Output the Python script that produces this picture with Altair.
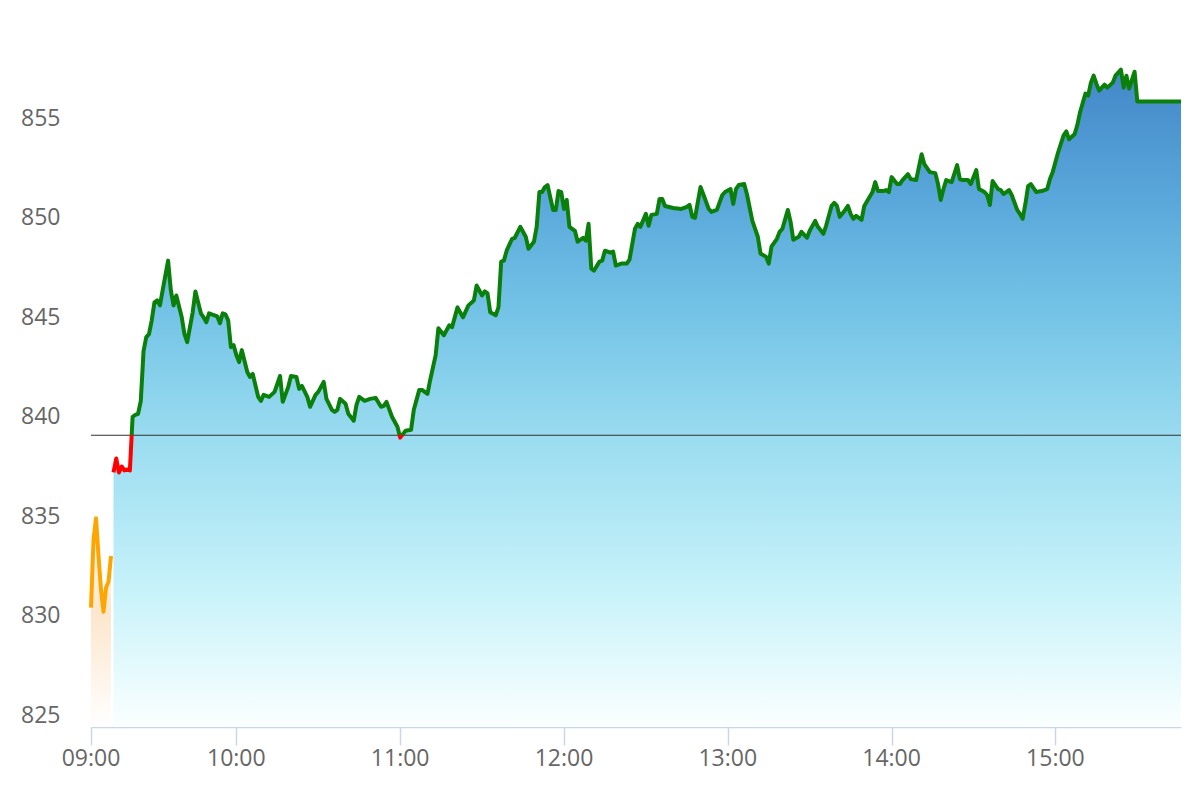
import altair as alt
import pandas as pd

# ---------------- data ----------------
prev_close = 839.07

pre_times = ["09:00", "09:01", "09:02", "09:03", "09:04", "09:05", "09:06", "09:07", "09:08"]
pre_vals = [830.4, 833.8, 834.9, 833.0, 831.3, 830.2, 831.4, 831.7, 833.0]

main_times = [
    "09:15", "09:16", "09:17", "09:18", "09:19", "09:20", "09:21", "09:22", "09:23", "09:24",
    "09:25", "09:26", "09:27", "09:28", "09:29", "09:30", "09:31", "09:32", "09:33", "09:35",
    "09:36", "09:37", "09:38", "09:40", "09:41", "09:42", "09:44", "09:45", "09:47", "09:48",
    "09:49", "09:50", "09:52", "09:53", "09:54", "09:55", "09:56", "09:57", "09:58", "09:59",
    "10:00", "10:01", "10:02", "10:04", "10:05", "10:06", "10:08", "10:09", "10:10", "10:12",
    "10:14", "10:16", "10:17", "10:19", "10:20", "10:22", "10:23", "10:24", "10:26", "10:27",
    "10:29", "10:30", "10:32", "10:33", "10:35", "10:36", "10:37", "10:38", "10:40", "10:41",
    "10:43", "10:44", "10:45", "10:47", "10:49", "10:51", "10:53", "10:54", "10:55", "10:57",
    "10:59", "11:00", "11:02", "11:04", "11:05", "11:07", "11:08", "11:10", "11:11", "11:13",
    "11:14", "11:16", "11:18", "11:19", "11:21", "11:22", "11:23", "11:25", "11:27", "11:28",
    "11:30", "11:31", "11:32", "11:33", "11:35", "11:36", "11:37", "11:38", "11:39", "11:41",
    "11:42", "11:44", "11:46", "11:47", "11:49", "11:50", "11:51", "11:52", "11:53", "11:54",
    "11:56", "11:57", "11:58", "11:59", "12:00", "12:01", "12:02", "12:04", "12:05", "12:07",
    "12:08", "12:09", "12:10", "12:11", "12:13", "12:14", "12:15", "12:17", "12:18", "12:19",
    "12:21", "12:23", "12:24", "12:26", "12:27", "12:28", "12:30", "12:31", "12:32", "12:34",
    "12:35", "12:36", "12:37", "12:40", "12:43", "12:45", "12:46", "12:47", "12:48", "12:50",
    "12:51", "12:53", "12:54", "12:56", "12:58", "12:59", "13:01", "13:02", "13:03", "13:04",
    "13:06", "13:07", "13:09", "13:11", "13:12", "13:14", "13:15", "13:16", "13:18", "13:19",
    "13:20", "13:22", "13:23", "13:24", "13:26", "13:27", "13:29", "13:30", "13:32", "13:33",
    "13:35", "13:36", "13:38", "13:39", "13:40", "13:41", "13:43", "13:44", "13:45", "13:46",
    "13:47", "13:49", "13:50", "13:53", "13:54", "13:55", "13:57", "13:58", "13:59", "14:00",
    "14:02", "14:03", "14:04", "14:06", "14:07", "14:09", "14:11", "14:12", "14:14", "14:16",
    "14:17", "14:18", "14:19", "14:20", "14:22", "14:24", "14:25", "14:26", "14:28", "14:29",
    "14:31", "14:32", "14:34", "14:35", "14:36", "14:37", "14:39", "14:40", "14:41", "14:43",
    "14:44", "14:46", "14:47", "14:48", "14:49", "14:50", "14:51", "14:53", "14:55", "14:57",
    "14:58", "14:59", "15:01", "15:03", "15:04", "15:05", "15:07", "15:08", "15:09", "15:11",
    "15:12", "15:13", "15:14", "15:15", "15:16", "15:18", "15:19", "15:21", "15:22", "15:24",
    "15:25", "15:26", "15:27", "15:29", "15:30", "15:46",
]
main_vals = [
    837.2, 837.9, 837.2, 837.5, 837.3, 837.35, 837.3, 840.0, 840.1, 840.15,
    840.8, 843.3, 844.0, 844.15, 844.85, 845.75, 845.85, 845.6, 846.35, 847.85,
    846.35, 845.6, 846.1, 845.0, 844.15, 843.75, 845.25, 846.3, 845.2, 845.0,
    844.75, 845.2, 845.1, 845.05, 844.7, 845.2, 845.15, 844.85, 843.5, 843.6,
    843.1, 842.75, 843.35, 842.25, 842.0, 842.15, 841.0, 840.8, 841.1, 841.0,
    841.25, 842.05, 840.75, 841.5, 842.05, 842.0, 841.4, 841.55, 841.0, 840.5,
    841.1, 841.25, 841.75, 840.9, 840.35, 840.25, 840.35, 840.9, 840.65, 840.15,
    839.8, 840.6, 841.0, 840.8, 840.9, 840.95, 840.5, 840.55, 840.75, 840.0,
    839.5, 838.95, 839.3, 839.35, 840.35, 841.35, 841.35, 841.15, 841.85, 843.1,
    844.45, 844.1, 844.6, 844.5, 845.5, 845.25, 845.0, 845.6, 845.85, 846.6,
    846.1, 846.3, 846.2, 845.25, 845.1, 845.5, 847.8, 847.85, 848.35, 848.95,
    849.0, 849.55, 849.05, 848.45, 848.8, 849.55, 851.3, 851.3, 851.55, 851.65,
    850.4, 850.4, 851.35, 851.3, 850.45, 850.9, 849.55, 849.35, 848.8, 849.0,
    848.85, 849.7, 847.45, 847.35, 847.8, 847.85, 848.35, 848.25, 848.3, 847.6,
    847.7, 847.7, 847.9, 849.45, 849.7, 849.55, 850.2, 849.6, 850.15, 850.2,
    850.95, 850.95, 850.6, 850.5, 850.45, 850.55, 850.65, 850.05, 850.0, 851.55,
    851.2, 850.45, 850.3, 850.4, 851.15, 851.3, 851.45, 850.7, 851.45, 851.65,
    851.7, 851.2, 849.85, 849.05, 848.2, 848.05, 847.7, 848.55, 848.95, 849.3,
    849.45, 850.4, 849.8, 848.9, 849.05, 849.3, 849.0, 849.35, 849.85, 849.55,
    849.2, 849.6, 850.6, 850.75, 850.6, 850.05, 850.4, 850.6, 850.2, 849.95,
    850.1, 849.9, 850.6, 851.3, 851.8, 851.35, 851.35, 851.4, 851.3, 852.05,
    851.7, 851.7, 851.9, 852.2, 851.95, 851.9, 853.2, 852.7, 852.3, 852.25,
    851.7, 850.9, 851.45, 851.9, 851.8, 852.65, 851.95, 851.9, 851.9, 851.7,
    852.4, 851.45, 851.3, 851.15, 850.65, 851.85, 851.45, 851.4, 851.2, 851.4,
    851.15, 850.4, 850.2, 849.95, 850.7, 851.6, 851.7, 851.3, 851.35, 851.45,
    851.95, 852.3, 853.3, 854.15, 854.35, 853.95, 854.2, 854.65, 855.3, 856.25,
    856.15, 856.8, 857.15, 856.75, 856.4, 856.7, 856.55, 856.8, 857.15, 857.45,
    856.55, 857.15, 856.5, 857.35, 855.85, 855.85,
]

y_ticks = [825, 830, 835, 840, 845, 850, 855]
x_tick_labels = ["09:00", "10:00", "11:00", "12:00", "13:00", "14:00", "15:00"]


def minutes(t):
    h, m = t.split(":")
    return (int(h) - 9) * 60 + int(m)


pre = pd.DataFrame({"time": pre_times, "value": pre_vals})
pre["m"] = pre["time"].map(minutes)
main = pd.DataFrame({"time": main_times, "value": main_vals})
main["m"] = main["time"].map(minutes)
ref = pd.DataFrame({"value": [prev_close]})
xlab = pd.DataFrame({"label": x_tick_labels})
xlab["m"] = xlab["label"].map(minutes)

# ---------------- layout ----------------
W, H = 1090, 708
Y_MIN, Y_MAX = 824.4, 860.0
xs = alt.Scale(domain=[0, 8, 15, 406], range=[0, 20, 22.5, W])
ys = alt.Scale(domain=[Y_MIN, Y_MAX], zero=False, nice=False)
FONT = "Open Sans"

x_axis = alt.Axis(
    values=[minutes(t) for t in x_tick_labels], labels=False,
    title=None, grid=False, domainColor="#ccd6eb", domainWidth=1.5,
    tickColor="#ccd6eb", tickWidth=1.5, tickSize=18,
)
y_axis = alt.Axis(
    values=y_ticks, title=None, grid=False, domain=False, ticks=False, tickSize=0,
    labelPadding=31, labelFont=FONT, labelFontSize=23, labelColor="#666666",
)

# gradient offsets derived from data (threshold colouring of the line)
vmax, vmin = max(main_vals), min(main_vals)
off = (vmax - prev_close) / (vmax - vmin)
line_grad = alt.Gradient(
    gradient="linear", x1=0, x2=0, y1=0, y2=1,
    stops=[
        alt.GradientStop(color="#0a800a", offset=0),
        alt.GradientStop(color="#0a800a", offset=off),
        alt.GradientStop(color="#ff0000", offset=off),
        alt.GradientStop(color="#ff0000", offset=1),
    ],
)
area_grad = alt.Gradient(
    gradient="linear", x1=0, x2=0, y1=0, y2=1,
    stops=[
        alt.GradientStop(color="#4287c8", offset=0),
        alt.GradientStop(color="#5aa8db", offset=0.2),
        alt.GradientStop(color="#72c2e6", offset=0.36),
        alt.GradientStop(color="#9adcf0", offset=0.56),
        alt.GradientStop(color="#c9f3fa", offset=0.8),
        alt.GradientStop(color="#fbffff", offset=1),
    ],
)
pre_grad = alt.Gradient(
    gradient="linear", x1=0, x2=0, y1=0, y2=1,
    stops=[
        alt.GradientStop(color="#ffffff", offset=0),
        alt.GradientStop(color="#fde6cc", offset=0.45),
        alt.GradientStop(color="#ffffff", offset=1),
    ],
)

pre_area = alt.Chart(pre).mark_area(color=pre_grad).encode(
    x=alt.X("m:Q", scale=xs, axis=x_axis),
    y=alt.Y("value:Q", scale=ys, axis=y_axis),
    y2=alt.datum(Y_MIN),
)
main_area = alt.Chart(main).mark_area(color=area_grad).encode(
    x=alt.X("m:Q", scale=xs),
    y=alt.Y("value:Q", scale=ys),
    y2=alt.datum(Y_MIN),
)
ref_rule = alt.Chart(ref).mark_rule(color="#333333", strokeWidth=1.2).encode(
    y=alt.Y("value:Q", scale=ys),
)
pre_line = alt.Chart(pre).mark_line(color="#ffa500", strokeWidth=4, strokeJoin="round").encode(
    x=alt.X("m:Q", scale=xs),
    y=alt.Y("value:Q", scale=ys),
)
main_line = alt.Chart(main).mark_line(color=line_grad, strokeWidth=4, strokeJoin="round").encode(
    x=alt.X("m:Q", scale=xs),
    y=alt.Y("value:Q", scale=ys),
)
x_labels = alt.Chart(xlab).mark_text(
    align="center", baseline="top", font=FONT, fontSize=23, color="#666666"
).encode(
    x=alt.X("m:Q", scale=xs),
    y=alt.value(H + 21),
    text="label:N",
)

chart = alt.layer(pre_area, main_area, ref_rule, pre_line, main_line, x_labels).properties(
    width=W, height=H,
    autosize=alt.AutoSizeParams(type="none"),
    padding={"left": 83, "top": 11, "right": 10, "bottom": 60},
    background="white",
).configure_view(stroke=None)

chart.save("out.html", embed_options={"renderer": "svg", "actions": False})
